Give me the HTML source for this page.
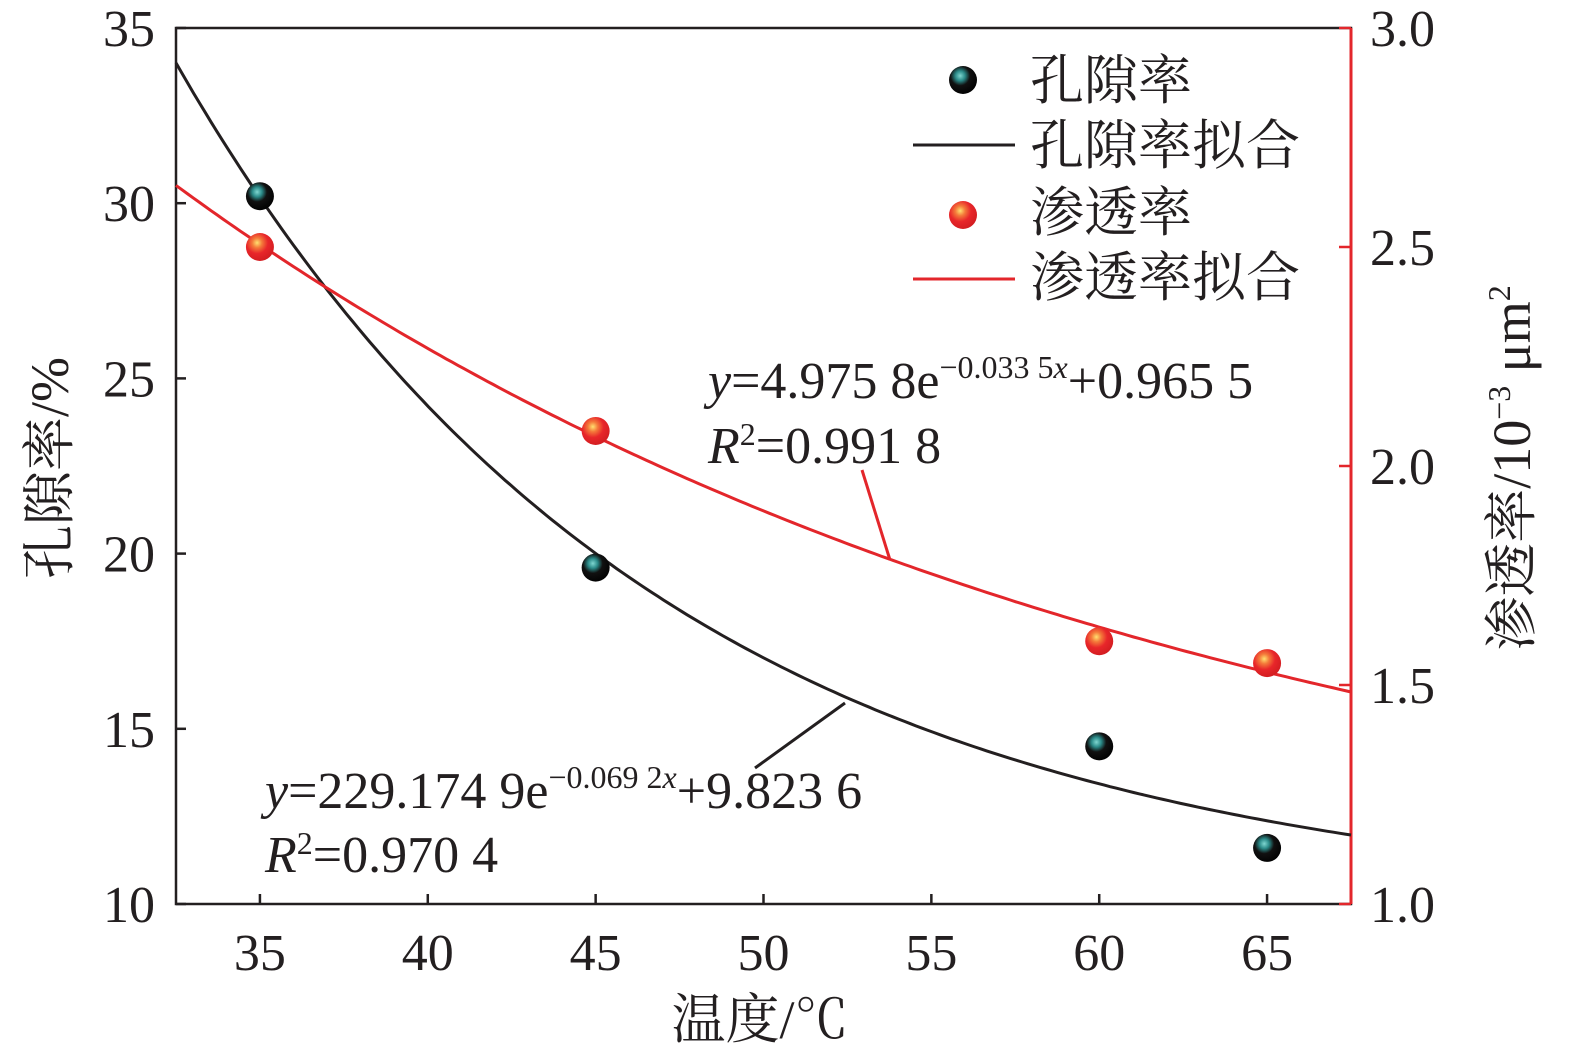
<!DOCTYPE html>
<html><head><meta charset="utf-8"><style>
html,body{margin:0;padding:0;background:#fff;}
svg{display:block;}
text{font-family:"Liberation Serif","Noto Serif CJK SC",serif;fill:#231f20;}
</style></head><body>
<svg id="chart" width="1575" height="1059" viewBox="0 0 1575 1059">
<defs>
<radialGradient id="gBlack" cx="0.4" cy="0.35" r="0.7">
<stop offset="0" stop-color="#7fd6d0"/><stop offset="0.25" stop-color="#2a8a88"/><stop offset="0.5" stop-color="#111"/><stop offset="1" stop-color="#000"/></radialGradient>
<radialGradient id="gRed" cx="0.4" cy="0.35" r="0.7">
<stop offset="0" stop-color="#ffe070"/><stop offset="0.25" stop-color="#f47a3a"/><stop offset="0.55" stop-color="#e8262a"/><stop offset="1" stop-color="#d01c20"/></radialGradient>
</defs>
<g id="axes"></g>
<g id="marks"></g>
<g id="legend">
<circle cx="963" cy="80" r="14" fill="url(#gBlack)"/>
<text x="1030" y="99" font-size="54">孔隙率</text>
<line x1="913" y1="145" x2="1015" y2="145" stroke="#231f20" stroke-width="3"/>
<text x="1030" y="164" font-size="54">孔隙率拟合</text>
<circle cx="963" cy="215" r="14" fill="url(#gRed)"/>
<text x="1030" y="231" font-size="54">渗透率</text>
<line x1="913" y1="279" x2="1015" y2="279" stroke="#e3262b" stroke-width="3"/>
<text x="1030" y="296" font-size="54">渗透率拟合</text>
</g>
<g>
<line x1="862" y1="470" x2="890" y2="560" stroke="#e3262b" stroke-width="3"/>
<text x="708" y="398" font-size="52"><tspan font-style="italic">y</tspan>=4.975 8e<tspan font-size="32" dy="-20">−0.033 5<tspan font-style="italic">x</tspan></tspan><tspan dy="20">+0.965 5</tspan></text>
<text x="708" y="463" font-size="52"><tspan font-style="italic">R</tspan><tspan font-size="32" dy="-18">2</tspan><tspan dy="18">=0.991 8</tspan></text>
</g>
<g>
<line x1="845" y1="703" x2="755" y2="768" stroke="#231f20" stroke-width="3"/>
<text x="265" y="808" font-size="52"><tspan font-style="italic">y</tspan>=229.174 9e<tspan font-size="32" dy="-20">−0.069 2<tspan font-style="italic">x</tspan></tspan><tspan dy="20">+9.823 6</tspan></text>
<text x="265" y="872" font-size="52"><tspan font-style="italic">R</tspan><tspan font-size="32" dy="-18">2</tspan><tspan dy="18">=0.970 4</tspan></text>
</g>
<text x="760" y="1038" font-size="54" text-anchor="middle">温度/℃</text>
<text transform="translate(68,468) rotate(-90)" font-size="54" text-anchor="middle">孔隙率/%</text>
<text transform="translate(1530,468) rotate(-90)" font-size="54" text-anchor="middle">渗透率/10<tspan font-size="32" dy="-20">−3</tspan><tspan dy="20"> μm</tspan><tspan font-size="32" dy="-20">2</tspan></text>
</svg>
<script>
const temps = [35, 45, 60, 65];
const porosity = [30.2, 19.6, 14.5, 11.6];
const permeability = [2.50, 2.08, 1.60, 1.55];
const xTicks = [35, 40, 45, 50, 55, 60, 65];
const leftTicks = [10, 15, 20, 25, 30, 35];
const rightTicks = [1.0, 1.5, 2.0, 2.5, 3.0];
const porFit = [229.1749, -0.0692, 9.8236];
const permFit = [4.9758, -0.0335, 0.9655];

const L=176, R=1351, T=28, B=904;
const X0=32.5, X1=67.5;
const sx = v => L + (v - X0) / (X1 - X0) * (R - L);
const sy = v => B - (v - 10) / 25 * (B - T);
const sr = v => B - (v - 1) / 2 * (B - T);
const NS='http://www.w3.org/2000/svg';
function mk(tag, attrs, parent){const e=document.createElementNS(NS,tag);for(const k in attrs)e.setAttribute(k,attrs[k]);parent.appendChild(e);return e;}
const ax=document.getElementById('axes'), mg=document.getElementById('marks');

let e=mk('rect',{x:L,y:T,width:R-L,height:B-T,fill:'none',stroke:'#231f20','stroke-width':2.5},ax);


e=mk('line',{x1:R,y1:T,x2:R,y2:B,stroke:'#e3262b','stroke-width':3},ax);



xTicks.forEach(v=>{
  let t=mk('line',{x1:sx(v),y1:B,x2:sx(v),y2:B-10,stroke:'#231f20','stroke-width':2.5},ax);
  
  
  let l=mk('text',{x:sx(v),y:970,'font-size':52,'text-anchor':'middle'},ax);l.textContent=v;
  
  
});
leftTicks.forEach(v=>{
  let t=mk('line',{x1:L,y1:sy(v),x2:L+10,y2:sy(v),stroke:'#231f20','stroke-width':2.5},ax);
  
  
  let l=mk('text',{x:155,y:sy(v)+18,'font-size':52,'text-anchor':'end'},ax);l.textContent=v;
  
  
});
rightTicks.forEach(v=>{
  let t=mk('line',{x1:R,y1:sr(v),x2:R-12,y2:sr(v),stroke:'#e3262b','stroke-width':2.5},ax);
  
  
  let l=mk('text',{x:1370,y:sr(v)+18,'font-size':52},ax);l.textContent=v.toFixed(1);
  
  
});

function fitPath(p, scale){let d='';for(let i=0;i<=200;i++){const x=X0+(X1-X0)*i/200;const y=p[0]*Math.exp(p[1]*x)+p[2];d+=(i?'L':'M')+sx(x).toFixed(1)+','+scale(y).toFixed(1);}return d;}
e=mk('path',{d:fitPath(porFit,sy),fill:'none',stroke:'#231f20','stroke-width':3},mg);


e=mk('path',{d:fitPath(permFit,sr),fill:'none',stroke:'#e3262b','stroke-width':3},mg);



temps.forEach((t,i)=>{
  let c=mk('circle',{cx:sx(t),cy:sy(porosity[i]),r:14,fill:'url(#gBlack)'},mg);
  
  
  let d=mk('circle',{cx:sx(t),cy:sr(permeability[i]),r:14,fill:'url(#gRed)'},mg);
  
  
});
</script>
</body></html>
